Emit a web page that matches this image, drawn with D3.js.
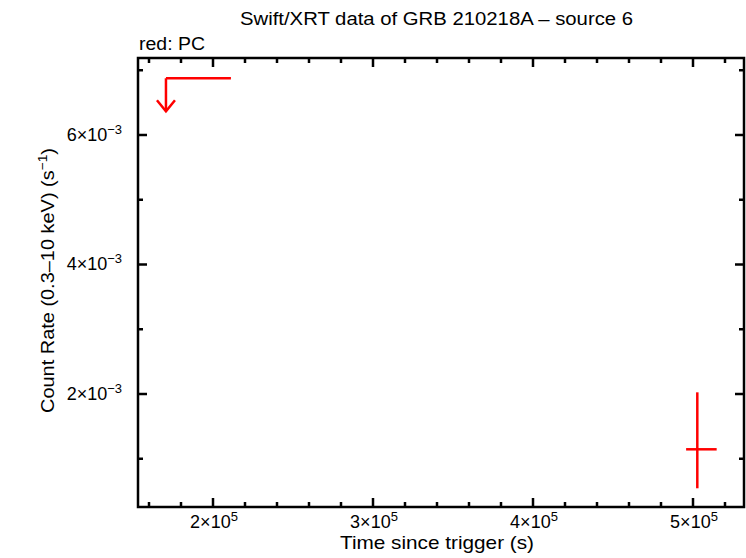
<!DOCTYPE html>
<html><head><meta charset="utf-8">
<script src="https://cdn.jsdelivr.net/npm/d3@7"></script>
<style>body{margin:0;background:#fff}svg{display:block}text{font-family:"Liberation Sans",Arial,sans-serif}</style>
</head><body>
<script>
// Data
const xMajorTicks = [2e5, 3e5, 4e5, 5e5];
const yMajorTicks = [2e-3, 4e-3, 6e-3];
// detections: time, time err minus, time err plus, rate, rate err minus, rate err plus
const pcTime = [502690];
const pcTimeErrMinus = [7000];
const pcTimeErrPlus = [12100];
const pcRate = [1.146e-3];
const pcRateErrMinus = [0.602e-3];
const pcRateErrPlus = [0.880e-3];
// upper limits: start time, end time, rate limit
const ulStart = [170600];
const ulEnd = [211200];
const ulRate = [6.876e-3];

const W = 746, H = 558;
const m = {l: 138, r: 744, t: 58, b: 507};
const svg = d3.select("body").append("svg").attr("width", W).attr("height", H);
const x = d3.scaleLinear().domain([153125, 531875]).range([m.l, m.r]);
const y = d3.scaleLinear().domain([0.255e-3, 7.189e-3]).range([m.b, m.t]);

const xMinor = d3.range(160000, 531875, 20000).filter(v => !xMajorTicks.includes(v));
const yMinor = d3.range(1e-3, 7.2e-3, 1e-3).map(v => +v.toFixed(6)).filter(v => !yMajorTicks.some(t => Math.abs(t - v) < 1e-9));

const SW = 2.5;
const g = svg.append("g");
function addTicks(scale, vals, len, side) {
  vals.forEach(v => {
    if (side === "bottom") g.append("line").attr("x1", scale(v)).attr("x2", scale(v)).attr("y1", m.b).attr("y2", m.b - len);
    if (side === "top") g.append("line").attr("x1", scale(v)).attr("x2", scale(v)).attr("y1", m.t).attr("y2", m.t + len);
    if (side === "left") g.append("line").attr("y1", scale(v)).attr("y2", scale(v)).attr("x1", m.l).attr("x2", m.l + len);
    if (side === "right") g.append("line").attr("y1", scale(v)).attr("y2", scale(v)).attr("x1", m.r).attr("x2", m.r - len);
  });
}
addTicks(x, xMajorTicks, 9, "bottom"); addTicks(x, xMinor, 5, "bottom");
addTicks(x, xMajorTicks, 9, "top"); addTicks(x, xMinor, 5, "top");
addTicks(y, yMajorTicks, 9, "left"); addTicks(y, yMinor, 5, "left");
addTicks(y, yMajorTicks, 9, "right"); addTicks(y, yMinor, 5, "right");
g.selectAll("line").attr("stroke", "#000").attr("stroke-width", SW);
svg.append("rect").attr("x", m.l).attr("y", m.t).attr("width", m.r - m.l).attr("height", m.b - m.t)
  .attr("fill", "none").attr("stroke", "#000").attr("stroke-width", SW);

// tick labels
xMajorTicks.forEach(v => {
  const mant = Math.round(v / 1e5);
  const t = svg.append("text").attr("x", x(v) + 1).attr("y", 528).attr("text-anchor", "middle").attr("font-size", 18);
  t.append("tspan").text(mant + "\u00d710");
  t.append("tspan").attr("font-size", 13).attr("dy", -7).text("5");
});
yMajorTicks.forEach(v => {
  const mant = Math.round(v / 1e-3);
  const t = svg.append("text").attr("x", 122).attr("y", y(v) + 6).attr("text-anchor", "end").attr("font-size", 18);
  t.append("tspan").text(mant + "\u00d710");
  t.append("tspan").attr("font-size", 13).attr("dy", -7).text("\u22123");
});

// titles
svg.append("text").attr("x", 240).attr("y", 25).attr("font-size", 17.5)
  .attr("textLength", 393).attr("lengthAdjust", "spacingAndGlyphs")
  .text("Swift/XRT data of GRB 210218A \u2013 source 6");
svg.append("text").attr("x", 139).attr("y", 50).attr("font-size", 17.5)
  .attr("textLength", 66).attr("lengthAdjust", "spacingAndGlyphs").text("red: PC");
svg.append("text").attr("x", 340).attr("y", 549).attr("font-size", 19)
  .attr("textLength", 194).attr("lengthAdjust", "spacingAndGlyphs")
  .text("Time since trigger (s)");
const yl = svg.append("text").attr("transform", "translate(54,413) rotate(-90)").attr("font-size", 19);
yl.append("tspan").text("Count Rate (0.3\u201310 keV) (s");
yl.append("tspan").attr("font-size", 13).attr("dy", -7).text("\u22121");
yl.append("tspan").attr("dy", 7).text(")");
const bb = yl.node().getBBox();
const k = 265 / bb.width;
yl.attr("transform", `translate(54,413) rotate(-90) scale(${k},1)`);

// data
const red = "#ff0000";
const d = svg.append("g").attr("stroke", red).attr("stroke-width", SW).attr("fill", "none");
pcTime.forEach((t, i) => {
  d.append("line").attr("x1", x(t - pcTimeErrMinus[i])).attr("x2", x(t + pcTimeErrPlus[i])).attr("y1", y(pcRate[i])).attr("y2", y(pcRate[i]));
  d.append("line").attr("x1", x(t)).attr("x2", x(t)).attr("y1", y(pcRate[i] + pcRateErrPlus[i])).attr("y2", y(pcRate[i] - pcRateErrMinus[i]));
});
ulStart.forEach((t, i) => {
  const x0 = x(t), x1 = x(ulEnd[i]), yy = y(ulRate[i]);
  d.append("line").attr("x1", x0).attr("x2", x1).attr("y1", yy).attr("y2", yy);
  d.append("line").attr("x1", x0).attr("x2", x0).attr("y1", yy).attr("y2", yy + 33);
  d.append("path").attr("d", `M${x0 - 9},${yy + 22} L${x0},${yy + 33} L${x0 + 9},${yy + 22}`);
});
</script>
</body></html>
